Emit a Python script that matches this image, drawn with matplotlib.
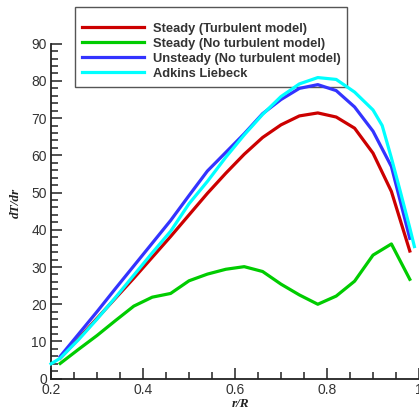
import numpy as np
import matplotlib
matplotlib.use("Agg")
import matplotlib.pyplot as plt
from matplotlib.patches import Rectangle
from matplotlib.ticker import MultipleLocator

# r/R stations of the CFD runs
r_cfd = [0.22, 0.26, 0.30, 0.34, 0.38, 0.42, 0.46, 0.50, 0.54, 0.58,
         0.62, 0.66, 0.70, 0.74, 0.78, 0.82, 0.86, 0.90, 0.94, 0.98]
steady_turb = [5.5, 10.8, 16.2, 21.6, 27.0, 32.6, 38.2, 44.0, 49.8, 55.2,
               60.3, 64.8, 68.2, 70.6, 71.4, 70.3, 67.3, 60.6, 50.3, 34.3]
steady_noturb = [4.1, 7.9, 11.6, 15.6, 19.5, 21.9, 22.9, 26.3, 28.1, 29.4,
                 30.1, 28.8, 25.4, 22.5, 20.0, 22.2, 26.2, 33.2, 36.2, 26.7]
unsteady_noturb = [6.0, 12.0, 18.0, 24.2, 30.3, 36.4, 42.5, 49.2, 55.8, 60.8,
                   65.8, 71.2, 75.0, 78.0, 79.0, 77.4, 73.0, 66.5, 57.0, 37.7]

# Adkins & Liebeck reference curve
r_al = [0.20, 0.22, 0.26, 0.30, 0.34, 0.38, 0.42, 0.46, 0.50, 0.54, 0.58,
        0.62, 0.66, 0.70, 0.74, 0.78, 0.82, 0.86, 0.90, 0.92, 0.94, 0.96,
        0.98, 0.99]
adkins = [4.0, 5.5, 10.5, 16.0, 21.8, 27.8, 33.8, 39.6, 47.0, 53.0, 59.5,
          65.5, 71.0, 75.8, 79.2, 80.9, 80.4, 77.0, 72.2, 68.0, 59.3, 50.0,
          40.5, 35.5]

labels = ["Steady (Turbulent model)", "Steady (No turbulent model)",
          "Unsteady (No turbulent model)", "Adkins Liebeck"]

W, H = 419, 412
fig = plt.figure(figsize=(W/100, H/100), dpi=100)
ax = fig.add_axes([51/W, 1 - 378.7/H, 1 - 51/W, (378.7 - 43.7)/H])
ax.patch.set_visible(False)

# legend box (tecplot style: curves are drawn over it)
fig.add_artist(Rectangle((75/W, 1 - 87/H), (347 - 75)/W, 80/H, transform=fig.transFigure,
                         facecolor="white", edgecolor="#555555", lw=1.0, zorder=0))

lw = 2.3
ax.plot(r_cfd, steady_turb, color="#cc0000", lw=lw, label=labels[0], zorder=3, clip_on=False)
ax.plot(r_cfd, steady_noturb, color="#00cc00", lw=lw, label=labels[1], zorder=3, clip_on=False)
ax.plot(r_cfd, unsteady_noturb, color="#3333ff", lw=lw, label=labels[2], zorder=3, clip_on=False)
ax.plot(r_al, adkins, color="#00ffff", lw=lw, label=labels[3], zorder=3, clip_on=False)

ax.set_xlim(0.2, 1.0)
ax.set_ylim(0, 90)
ax.spines["top"].set_visible(False)
ax.spines["right"].set_visible(False)
for s in ("left", "bottom"):
    ax.spines[s].set_linewidth(1.3)
    ax.spines[s].set_color("#222222")

ax.xaxis.set_major_locator(MultipleLocator(0.2))
ax.xaxis.set_minor_locator(MultipleLocator(0.05))
ax.yaxis.set_major_locator(MultipleLocator(10))
ax.yaxis.set_minor_locator(MultipleLocator(2))
ax.tick_params(which="both", direction="in", color="#222222", width=1.1)
ax.tick_params(which="major", length=8)
ax.tick_params(which="minor", length=5)
ax.tick_params(axis="y", which="major", pad=3)
ax.tick_params(axis="x", which="major", pad=3)
ax.xaxis.set_major_formatter(plt.FuncFormatter(lambda v, p: "1" if abs(v - 1) < 1e-9 else f"{v:.1f}"))
for lab in ax.get_xticklabels() + ax.get_yticklabels():
    lab.set_fontfamily("Liberation Sans")
    lab.set_fontsize(10)
    lab.set_color("#333333")

ax.set_xlabel("r/R", family="Liberation Serif", style="italic", weight="bold", fontsize=9.5, color="#222222")
ax.set_ylabel("dT/dr", family="Liberation Serif", style="italic", weight="bold", fontsize=9.5, color="#222222")
ax.xaxis.set_label_coords((241 - 51)/368, -(398 - 378.7)/335)
ax.yaxis.set_label_coords(-(51 - 22)/368, (378.7 - 202.5)/335)

leg = ax.legend(loc="upper left", bbox_to_anchor=(82/W, 1 - 22.5/H),
                bbox_transform=fig.transFigure,
                prop={"family": "Liberation Sans", "weight": "bold", "size": 9.3},
                frameon=False, handlelength=4.8, handletextpad=0.7,
                labelspacing=0.24, borderpad=0, borderaxespad=0)
leg.set_zorder(1)
for t in leg.get_texts():
    t.set_color("#333333")

fig.savefig("out.png", dpi=100)
